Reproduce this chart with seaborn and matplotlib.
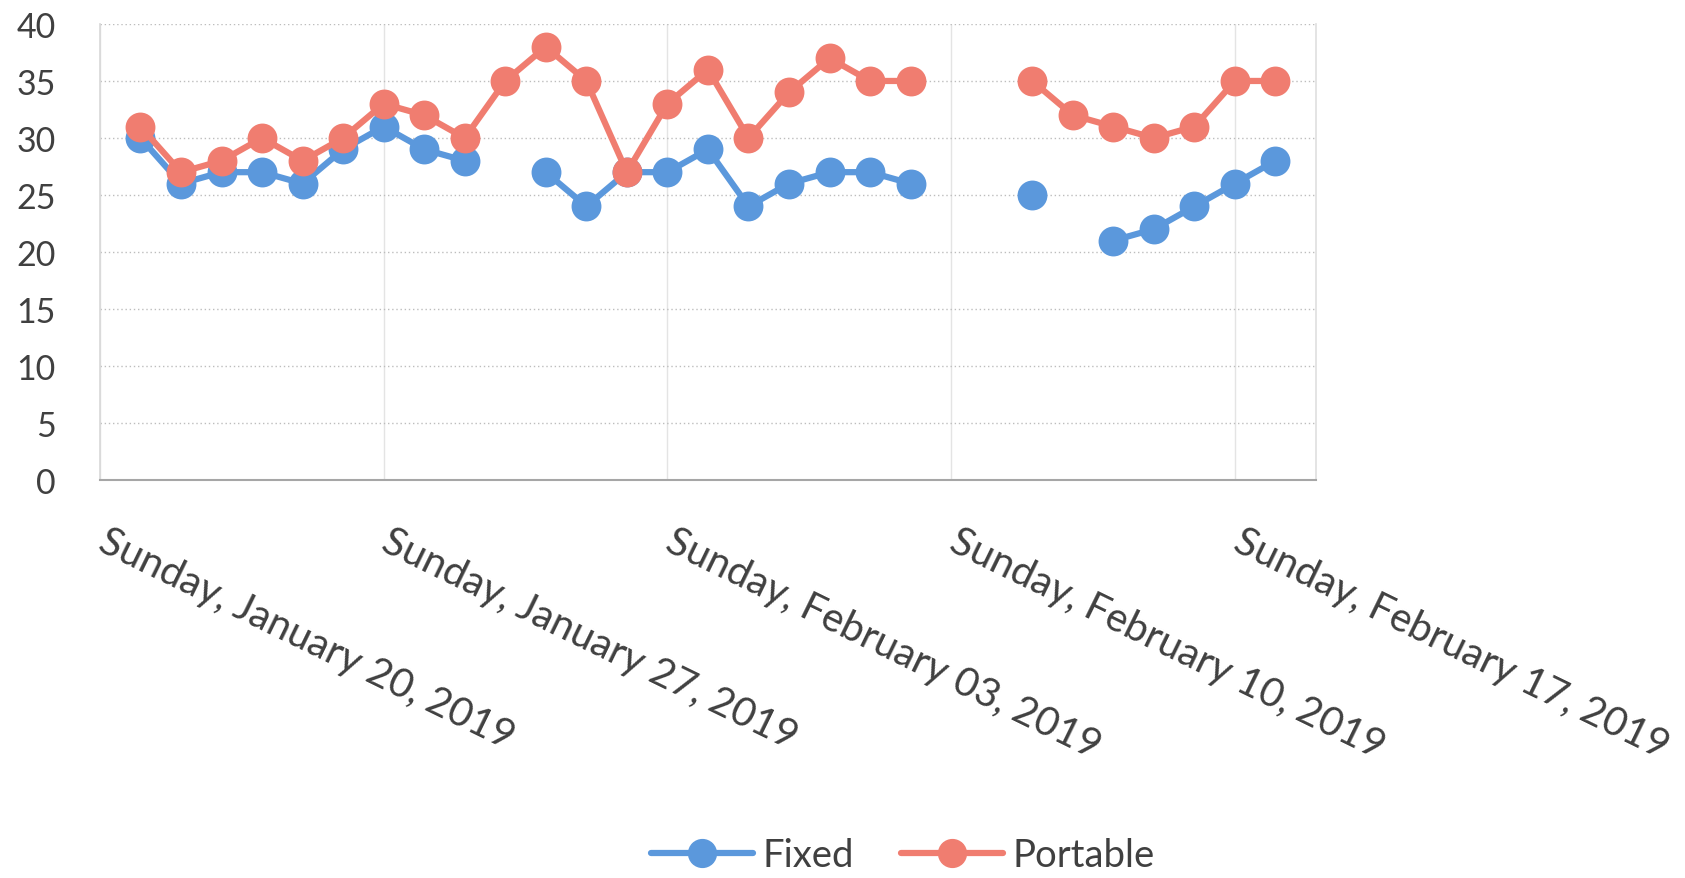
import numpy as np
import pandas as pd
import matplotlib
matplotlib.use('Agg')
import matplotlib.pyplot as plt
import matplotlib.dates as mdates
import matplotlib.transforms as mtransforms
from matplotlib.lines import Line2D
import seaborn as sns

# Dados diários (NaN = sem medição)
datas = pd.date_range('2019-01-21', '2019-02-18', freq='D')
fixed = [30, 26, 27, 27, 26, 29, 31, 29, 28, np.nan, 27, 24, 27,
         27, 29, 24, 26, 27, 27, 26, np.nan, np.nan, 25, np.nan,
         21, 22, 24, 26, 28]
portable = [31, 27, 28, 30, 28, 30, 33, 32, 30, 35, 38, 35, 27,
            33, 36, 30, 34, 37, 35, 35, np.nan, np.nan, 35, 32,
            31, 30, 31, 35, 35]
semanas = pd.date_range('2019-01-20', periods=5, freq='7D')
cores = {'Fixed': '#5B98DC', 'Portable': '#F07D70'}

sns.set_theme(style='white')
plt.rcParams['font.family'] = ['Lato', 'DejaVu Sans']

# Formato longo, com segmentos para manter as falhas
df = pd.DataFrame({'data': datas, 'Fixed': fixed, 'Portable': portable})
df = df.melt(id_vars='data', var_name='serie', value_name='valor')
df['seg'] = df.groupby('serie')['valor'].transform(lambda s: s.isna().cumsum())
df = df.dropna()

fig = plt.figure(figsize=(16.85, 8.79), dpi=100)
ax = fig.add_axes([0.0593, 0.4528, 0.7217, 0.5188])

sns.lineplot(data=df, x='data', y='valor', hue='serie', units='seg',
             estimator=None, palette=cores, marker='o', markersize=20,
             linewidth=4.5, legend=False, ax=ax)
for ln in ax.lines:
    ln.set_markeredgecolor(ln.get_color())
    ln.set_markeredgewidth(1.5)

ax.set_xlim(pd.Timestamp('2019-01-20'), pd.Timestamp('2019-02-19'))
ax.set_ylim(0, 40)
ax.set_yticks(range(0, 41, 5))
ax.set_xticks(semanas)
ax.xaxis.set_major_formatter(mdates.DateFormatter('%A, %B %d, %Y'))
ax.xaxis.set_minor_locator(mdates.DayLocator())
ax.set_xlabel('')
ax.set_ylabel('')

ax.tick_params(axis='x', which='both', direction='in', length=10,
               color='#B0B0B0', pad=30, labelsize=29, labelcolor='#404040')
ax.tick_params(axis='y', length=0, pad=32, labelsize=24.5, labelcolor='#404040')
desloc = mtransforms.ScaledTranslation(0.09, 0, fig.dpi_scale_trans)
for lbl in ax.get_xticklabels():
    lbl.set_rotation(-26)
    lbl.set_ha('left')
    lbl.set_va('top')
    lbl.set_rotation_mode('anchor')
    lbl.set_transform(lbl.get_transform() + desloc)

ax.grid(axis='y', linestyle=(0, (1, 2)), color='#BDBDBD', linewidth=1)
ax.grid(axis='x', which='major', color='#E4E4E4', linewidth=1)
ax.spines['top'].set_visible(False)
ax.spines['left'].set_color('#D9D9D9')
ax.spines['right'].set_color('#E0E0E0')
ax.spines['bottom'].set_color('#A6A6A6')
ax.spines['bottom'].set_linewidth(1.5)

handles = [Line2D([], [], color=cores[k], lw=4.5, marker='o', ms=20,
                  mec=cores[k]) for k in ['Fixed', 'Portable']]
fig.legend(handles, ['Fixed', 'Portable'], loc='center',
           bbox_to_anchor=(0.536, 0.026), ncol=2, frameon=False, fontsize=27.5,
           handlelength=2.67, handletextpad=0.25, columnspacing=1.23,
           labelcolor='#404040')

fig.savefig('out.png', dpi=100)
